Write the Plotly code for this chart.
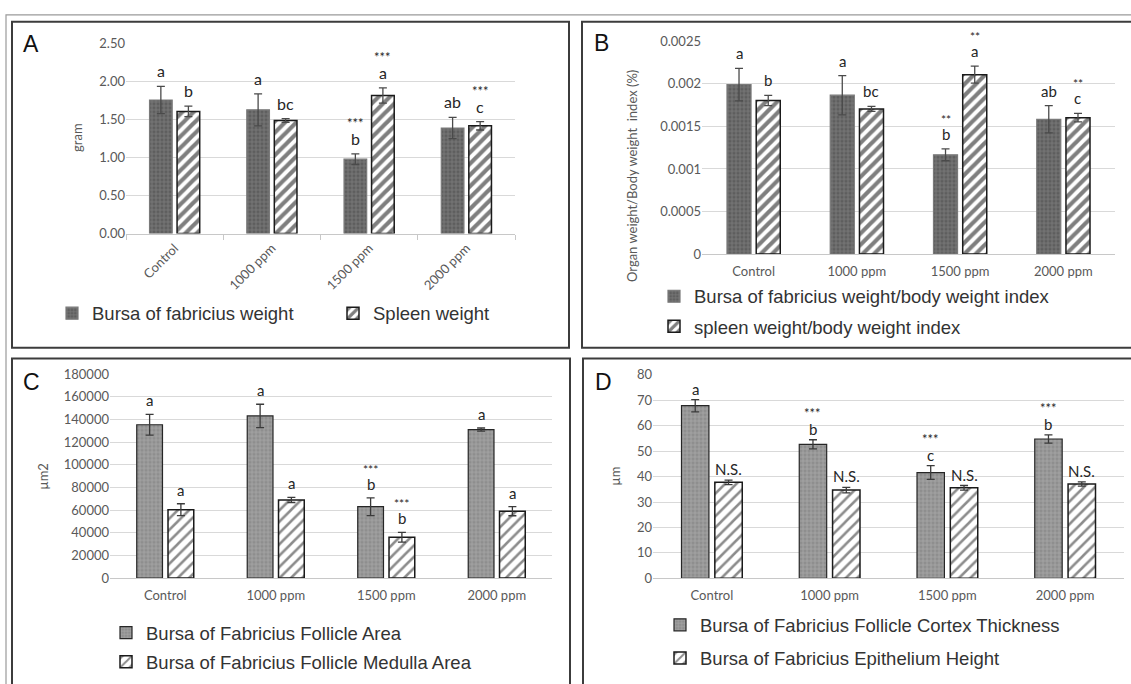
import plotly.graph_objects as go

W, H = 1131, 684

categories = ["Control", "1000 ppm", "1500 ppm", "2000 ppm"]

# ---- Panel A (gram) ----
a_bursa = [1.76, 1.63, 0.98, 1.39]
a_bursa_err = [0.18, 0.21, 0.07, 0.14]
a_spleen = [1.61, 1.49, 1.82, 1.42]
a_spleen_err = [0.07, 0.025, 0.10, 0.055]
a_bursa_letters = ["a", "a", "b", "ab"]
a_bursa_stars = ["", "", "***", ""]
a_spleen_letters = ["b", "bc", "a", "c"]
a_spleen_stars = ["", "", "***", "***"]
a_tickvals = [0, 0.5, 1.0, 1.5, 2.0, 2.5]
a_ticktext = ["0.00", "0.50", "1.00", "1.50", "2.00", "2.50"]

# ---- Panel B (organ weight / body weight index) ----
b_bursa = [0.00199, 0.001866, 0.001166, 0.001583]
b_bursa_err = [0.00019, 0.00023, 0.00007, 0.00016]
b_spleen = [0.001804, 0.001705, 0.002107, 0.001602]
b_spleen_err = [0.00006, 0.00003, 0.0001, 0.00005]
b_bursa_letters = ["a", "a", "b", "ab"]
b_bursa_stars = ["", "", "**", ""]
b_spleen_letters = ["b", "bc", "a", "c"]
b_spleen_stars = ["", "", "**", "**"]
b_tickvals = [0, 0.0005, 0.001, 0.0015, 0.002, 0.0025]
b_ticktext = ["0", "0.0005", "0.001", "0.0015", "0.002", "0.0025"]

# ---- Panel C (area, um2) ----
c_follicle = [135400, 143200, 63000, 131100]
c_follicle_err = [9200, 10300, 7800, 1400]
c_medulla = [60400, 69000, 36000, 59000]
c_medulla_err = [5200, 2300, 4300, 4000]
c_follicle_letters = ["a", "a", "b", "a"]
c_follicle_stars = ["", "", "***", ""]
c_medulla_letters = ["a", "a", "b", "a"]
c_medulla_stars = ["", "", "***", ""]
c_tickvals = [0, 20000, 40000, 60000, 80000, 100000, 120000, 140000, 160000, 180000]

# ---- Panel D (um) ----
d_cortex = [67.9, 52.7, 41.6, 54.8]
d_cortex_err = [2.4, 1.8, 2.7, 1.6]
d_epith = [37.75, 34.7, 35.6, 37.1]
d_epith_err = [0.9, 1.1, 0.9, 0.8]
d_cortex_letters = ["a", "b", "c", "b"]
d_cortex_stars = ["", "***", "***", "***"]
d_epith_letters = ["N.S.", "N.S.", "N.S.", "N.S."]
d_epith_stars = ["", "", "", ""]
d_tickvals = [0, 10, 20, 30, 40, 50, 60, 70, 80]


def X(px):
    return px / W


def Y(py):
    return 1 - py / H


TICK_FONT = "Lato, Open Sans, sans-serif"
LEG_FONT = "Liberation Sans, Arial, sans-serif"
GRAY = "#595959"

fig = go.Figure()

panels = [
    dict(n="", dom_x=(126, 515), dom_y=(36.7, 231), rng=[0, 2.5], tv=a_tickvals, tt=a_ticktext,
         s1=("Bursa of fabricius weight", a_bursa, a_bursa_err, a_bursa_letters, a_bursa_stars),
         s2=("Spleen weight", a_spleen, a_spleen_err, a_spleen_letters, a_spleen_stars),
         legend="legend", dark=True, lfs=16, sfs=13, lshift=4, star_gap=17),
    dict(n="2", dom_x=(702, 1115), dom_y=(34, 252), rng=[0, 0.0025], tv=b_tickvals, tt=b_ticktext,
         s1=("Bursa of fabricius weight/body weight index", b_bursa, b_bursa_err, b_bursa_letters, b_bursa_stars),
         s2=("spleen weight/body weight index", b_spleen, b_spleen_err, b_spleen_letters, b_spleen_stars),
         legend="legend2", dark=True, lfs=15, sfs=12, lshift=4, star_gap=16),
    dict(n="3", dom_x=(110, 552), dom_y=(375, 583.7), rng=[0, 180000], tv=c_tickvals, tt=None,
         s1=("Bursa of Fabricius Follicle Area", c_follicle, c_follicle_err, c_follicle_letters, c_follicle_stars),
         s2=("Bursa of Fabricius Follicle Medulla Area", c_medulla, c_medulla_err, c_medulla_letters, c_medulla_stars),
         legend="legend3", dark=False, lfs=15, sfs=12, lshift=3, star_gap=16),
    dict(n="4", dom_x=(653, 1124), dom_y=(375.7, 584), rng=[0, 80], tv=d_tickvals, tt=None,
         s1=("Bursa of Fabricius Follicle Cortex Thickness", d_cortex, d_cortex_err, d_cortex_letters, d_cortex_stars),
         s2=("Bursa of Fabricius Epithelium Height", d_epith, d_epith_err, d_epith_letters, d_epith_stars),
         legend="legend4", dark=False, lfs=15, sfs=13, lshift=0, star_gap=17),
]

annotations = []
layout_axes = {}
SLOT = 0.283

for p in panels:
    n = p["n"]
    xa = "x" + n
    ya = "y" + n
    if p["dark"]:
        bg1, fg1, line1, err1 = "#5e5e5e", "#a9a9a9", "#7a7a7a", "#4a4a4a"
        hsize, hsol, hcol = 8, 0.52, "#000000"
    else:
        bg1, fg1, line1, err1 = "#8e8e8e", "#cdcdcd", "#262626", "#3a3a3a"
        hsize, hsol, hcol = 8, 0.32, "#1a1a1a"
    name1, v1, e1, l1, st1 = p["s1"]
    name2, v2, e2, l2, st2 = p["s2"]
    fig.add_trace(go.Bar(
        x=categories, y=v1, name=name1, xaxis=xa, yaxis=ya, legend=p["legend"],
        legendgroup=p["legend"] + "a",
        marker=dict(color=bg1, line=dict(color=line1, width=1.2),
                    pattern=dict(shape="+", fgcolor=fg1, bgcolor=bg1, size=4, solidity=0.3,
                                 fillmode="overlay")),
        error_y=dict(type="data", array=e1, color=err1, thickness=1.3, width=4),
    ))
    fig.add_trace(go.Bar(
        x=categories, y=v2, name=name2, xaxis=xa, yaxis=ya, legend=p["legend"],
        legendgroup=p["legend"] + "b",
        marker=dict(color="white", line=dict(color="#1a1a1a", width=1.5),
                    pattern=dict(shape="/", fgcolor=hcol, bgcolor="white", size=hsize,
                                 solidity=hsol, fillmode="overlay")),
        error_y=dict(type="data", array=e2, color=err1, thickness=1.3, width=4),
    ))
    x0, x1 = p["dom_x"]
    y0, y1 = p["dom_y"]
    catw = (x1 - x0) / len(categories)
    off = SLOT / 2 * catw
    ax_x = dict(domain=[X(x0), X(x1)], anchor=ya, type="category",
                showline=True, linecolor="#c8c8c8", linewidth=1, showgrid=False,
                tickfont=dict(family=TICK_FONT, size=13, color=GRAY), ticks="",
                ticklabelstandoff=5)
    if n == "":
        ax_x.update(tickangle=-45, ticks="outside", tickson="boundaries", ticklen=5,
                    tickcolor="#c8c8c8", ticklabelstandoff=1)
    ax_y = dict(domain=[Y(y1), Y(y0)], anchor=xa, range=p["rng"], tickvals=p["tv"],
                showgrid=True, gridcolor="#d9d9d9", gridwidth=1, zeroline=False,
                showline=False, ticks="", tickfont=dict(family=TICK_FONT, size=13, color=GRAY))
    if p["tt"] is not None:
        ax_y["ticktext"] = p["tt"]
    else:
        ax_y["tickformat"] = "d"
    layout_axes["xaxis" + n] = ax_x
    layout_axes["yaxis" + n] = ax_y

    for vals, errs, letters, stars, sgn in ((v1, e1, l1, st1, -1), (v2, e2, l2, st2, 1)):
        for c, v, e, lt, st in zip(categories, vals, errs, letters, stars):
            annotations.append(dict(xref=xa, yref=ya, x=c, y=v + e, xshift=sgn * off,
                                    yanchor="bottom", yshift=p["lshift"], showarrow=False, text=lt,
                                    font=dict(family=TICK_FONT, size=p["lfs"], color="#262626")))
            if st:
                annotations.append(dict(xref=xa, yref=ya, x=c, y=v + e, xshift=sgn * off,
                                        yanchor="bottom", yshift=p["lshift"] + p["star_gap"],
                                        showarrow=False, text=st,
                                        font=dict(family=TICK_FONT, size=p["sfs"], color="#262626")))

# panel letters and axis titles
for txt, px, py in (("A", 31, 37), ("B", 601, 36), ("C", 31, 383), ("D", 603, 383)):
    annotations.append(dict(xref="paper", yref="paper", x=X(px), y=Y(py), text=txt,
                            showarrow=False, xanchor="center", yanchor="middle",
                            font=dict(family=LEG_FONT, size=23, color="#111111")))
for txt, px, py in (("gram", 77, 133), ("Organ weight/Body weight  index (%)", 632, 172),
                    ("µm2", 43, 480), ("µm", 615, 480)):
    annotations.append(dict(xref="paper", yref="paper", x=X(px), y=Y(py), text=txt,
                            showarrow=False, textangle=-90, xanchor="center", yanchor="middle",
                            font=dict(family=TICK_FONT, size=13, color=GRAY)))

shapes = [
    dict(type="rect", xref="paper", yref="paper", x0=X(6), x1=1.05, y0=-0.05, y1=Y(7),
         line=dict(color="#9a9a9a", width=1.2)),
    dict(type="rect", xref="paper", yref="paper", x0=X(12), x1=X(569), y0=Y(348), y1=Y(14),
         line=dict(color="#3c3c3c", width=2)),
    dict(type="rect", xref="paper", yref="paper", x0=X(582), x1=1.05, y0=Y(348), y1=Y(14),
         line=dict(color="#3c3c3c", width=2)),
    dict(type="rect", xref="paper", yref="paper", x0=X(12), x1=X(570), y0=-0.05, y1=Y(359),
         line=dict(color="#3c3c3c", width=2)),
    dict(type="rect", xref="paper", yref="paper", x0=X(583), x1=1.05, y0=-0.05, y1=Y(359),
         line=dict(color="#3c3c3c", width=2)),
]

leg_font = dict(family=LEG_FONT, size=18.5, color="#333333")
fig.update_layout(
    width=W, height=H, margin=dict(l=0, r=0, t=0, b=0),
    paper_bgcolor="white", plot_bgcolor="white",
    barmode="group", bargap=1 - 2 * SLOT, bargroupgap=0.05 / SLOT,
    annotations=annotations, shapes=shapes,
    legend=dict(orientation="h", x=X(52), y=Y(313), xanchor="left", yanchor="middle",
                font=leg_font, entrywidth=236, entrywidthmode="pixels",
                bgcolor="rgba(0,0,0,0)", traceorder="normal"),
    legend2=dict(orientation="v", x=X(654), y=Y(311), xanchor="left", yanchor="middle",
                 font=leg_font, tracegroupgap=3, traceorder="grouped", bgcolor="rgba(0,0,0,0)"),
    legend3=dict(orientation="v", x=X(106), y=Y(655), xanchor="left", yanchor="middle",
                 font=leg_font, tracegroupgap=2, traceorder="grouped", bgcolor="rgba(0,0,0,0)"),
    legend4=dict(orientation="v", x=X(660), y=Y(649), xanchor="left", yanchor="middle",
                 font=leg_font, tracegroupgap=6, traceorder="grouped", bgcolor="rgba(0,0,0,0)"),
    **layout_axes,
)

fig.write_html("out.html", config={"displayModeBar": False},
               post_script="document.body.style.margin='0px';")
